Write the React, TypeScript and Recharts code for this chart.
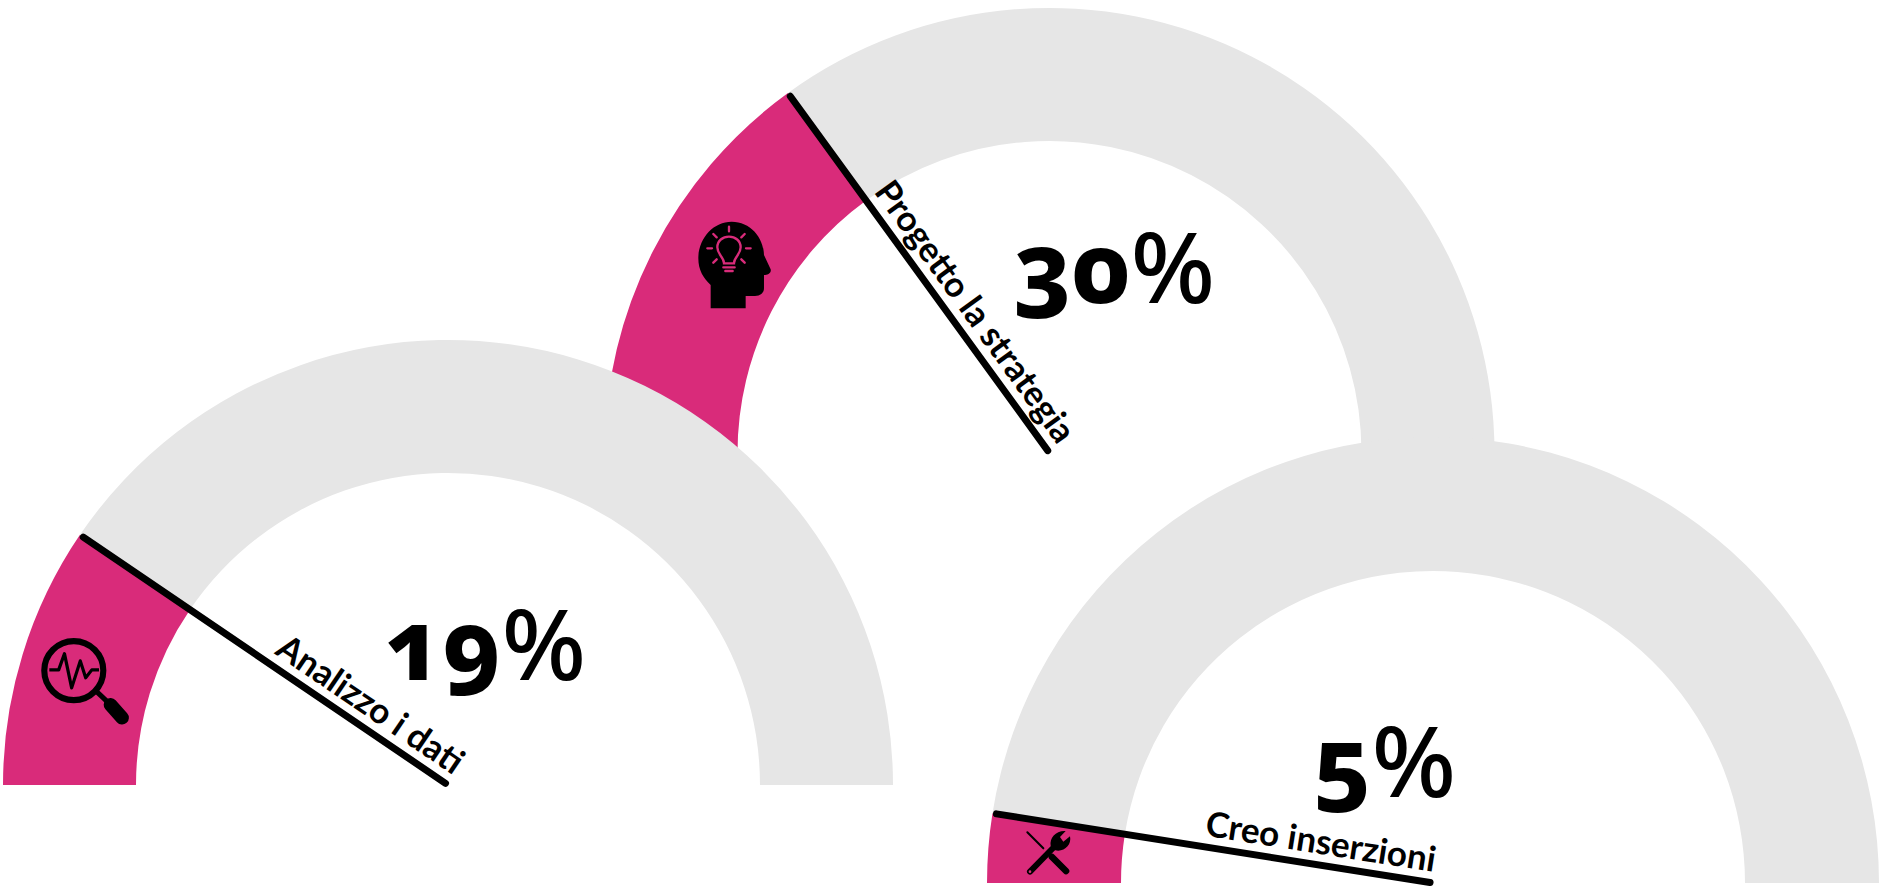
import { PieChart, Pie, Cell } from 'recharts';

const STEPS = ['Analizzo i dati', 'Progetto la strategia', 'Creo inserzioni'];
const SHARES = [19, 30, 5];
const REMAINDERS = [81, 70, 95];

const PINK = '#D92B7A';
const GREY = '#E6E6E6';
const FONT = 'Lato, sans-serif';
const VALUE_FONT = '"Noto Sans", sans-serif';

// drawn back to front, the first gauge has to sit over the pink of the second
const DRAW_ORDER = [1, 0, 2];

const LAYOUT = [
  { cx: 448, cy: 785, outer: 445, labelSize: 35, valueX: 384, valueY: 680, valueSize: 99 },
  { cx: 1049.5, cy: 453, outer: 445, labelSize: 35, valueX: 1013, valueY: 303, valueSize: 99 },
  { cx: 1433, cy: 883, outer: 446, labelSize: 35, valueX: 1313, valueY: 797, valueSize: 99 },
];

const HeadIcon = () => (
  <g transform="translate(680,210) scale(0.3333)">
    <path
      d="M92,295 L92,225 C70,205 55,180 55,145 C55,85 100,35 155,35 C210,35 250,80 252,135 L272,178 C275,190 262,195 252,195 L252,235 C252,250 240,258 225,258 L197,258 L197,295 Z"
      fill="#000"
    />
    <g fill="none" stroke={PINK} strokeWidth={7} strokeLinecap="round">
      <path d="M132,160 C132,140 112,135 112,112 C112,92 128,80 147,80 C166,80 182,92 182,112 C182,135 162,140 162,160 Z" />
      <path d="M130,172 L164,172 M136,183 L158,183" />
      <path d="M147,50 L147,64 M100,72 L110,82 M194,72 L184,82 M82,115 L96,115 M198,115 L212,115 M100,158 L110,148 M194,158 L184,148" />
    </g>
  </g>
);

const SearchIcon = () => (
  <g transform="translate(27,622) scale(0.36)">
    <circle cx={130} cy={135} r={82} fill="none" stroke="#000" strokeWidth={17} />
    <path
      d="M62,133 L88,133 L104,88 L124,183 L148,108 L163,155 L180,133 L200,133"
      fill="none"
      stroke="#000"
      strokeWidth={9}
      strokeLinejoin="round"
    />
    <path d="M195,195 L228,226" stroke="#000" strokeWidth={14} />
    <path d="M232,230 L264,266" stroke="#000" strokeWidth={38} strokeLinecap="round" />
  </g>
);

const ToolsIcon = () => (
  <g transform="translate(1010,815) scale(0.3333)">
    <path d="M52,52 L100,100" stroke="#000" strokeWidth={6} strokeLinecap="round" />
    <path d="M126,126 L168,168" stroke="#000" strokeWidth={20} strokeLinecap="round" />
    <path d="M60,170 L138,90" stroke="#000" strokeWidth={18} strokeLinecap="round" />
    <path
      d="M122,92 C118,68 138,46 167,48 L150,66 L160,80 L180,64 C186,90 162,112 136,106 Z"
      fill="#000"
    />
    <circle cx={60} cy={170} r={4} fill={PINK} />
  </g>
);

const ICONS = [SearchIcon, HeadIcon, ToolsIcon];

const renderGaugeText = (step: number) => (props: any) => {
  if (props.index !== 0) return null;
  const { cx, cy, outerRadius, percent } = props;
  const layout = LAYOUT[step];
  const angle = percent * 180;
  const Icon = ICONS[step];
  return (
    <g>
      <g transform={`translate(${cx},${cy}) rotate(${angle})`}>
        <line x1={-outerRadius + 4} y1={0} x2={-3} y2={0} stroke="#000" strokeWidth={7} strokeLinecap="round" />
        <text
          x={-1}
          y={-11}
          textAnchor="end"
          fontFamily={FONT}
          fontWeight={700}
          fontSize={layout.labelSize}
          fill="#000"
        >
          {STEPS[step]}
        </text>
      </g>
      <text
        x={layout.valueX}
        y={layout.valueY}
        fontFamily={VALUE_FONT}
        fontWeight={800}
        fontSize={layout.valueSize}
        fill="#000"
        style={{ fontFeatureSettings: '"onum" 1' }}
      >
        {SHARES[step]}
        <tspan fontWeight={500}>%</tspan>
      </text>
      <Icon />
    </g>
  );
};

export default function App() {
  return (
    <div style={{ position: 'absolute', left: 0, top: 0, width: 1879, height: 889, background: '#fff' }}>
      <PieChart width={1879} height={889} margin={{ top: 0, right: 0, bottom: 0, left: 0 }}>
        {DRAW_ORDER.map((step) => (
          <Pie
            key={STEPS[step]}
            data={[
              { name: STEPS[step], value: SHARES[step] },
              { name: 'resto', value: REMAINDERS[step] },
            ]}
            dataKey="value"
            cx={LAYOUT[step].cx}
            cy={LAYOUT[step].cy}
            innerRadius={312}
            outerRadius={LAYOUT[step].outer}
            startAngle={180}
            endAngle={0}
            stroke="none"
            isAnimationActive={false}
            labelLine={false}
            label={renderGaugeText(step)}
          >
            <Cell fill={PINK} />
            <Cell fill={GREY} />
          </Pie>
        ))}
      </PieChart>
    </div>
  );
}
